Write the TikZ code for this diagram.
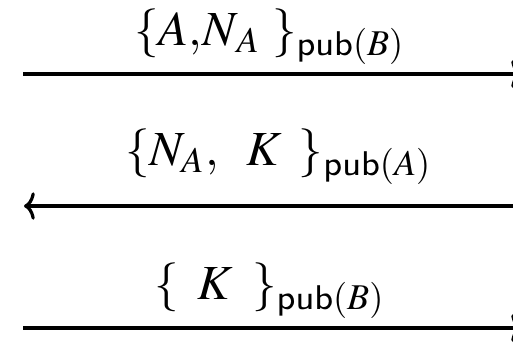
\documentclass[tikz,border=0pt]{standalone}
\usepackage{mathptmx}
\usepackage[scaled=0.92]{helvet}
\usetikzlibrary{arrows.meta}
\begin{document}
\begin{tikzpicture}[x=0.2041pt,y=-0.2041pt,
  msg/.style={line width=0.65pt,-{To[length=2.2pt,width=5.6pt]}},
  lbl/.style={anchor=base,inner sep=0pt}]
\useasboundingbox (0,0) rectangle (513,350);
\clip (0,0) rectangle (513,350);
\coordinate (a1) at (23,74);
\coordinate (b1) at (522,74);
\coordinate (a2) at (522,206);
\coordinate (b2) at (24,206);
\coordinate (a3) at (23,328);
\coordinate (b3) at (522,328);
\node[lbl] (l1) at (270,45) {$\{A{,}N_{\hspace{0.6pt}A}\hspace{2.2pt}\}_{\mathsf{pub}(B)}$};
\node[lbl] (l2) at (279,165) {$\{N_A,\hspace{4.5pt}K\hspace{3.4pt}\}_{\mathsf{pub}(A)}$};
\node[lbl] (l3) at (270,299) {$\{\hspace{3.9pt}K\hspace{3.9pt}\}_{\mathsf{pub}(B)}$};
\draw[msg] (a1) -- (b1);
\draw[msg] (a2) -- (b2);
\draw[msg] (a3) -- (b3);
\end{tikzpicture}
\end{document}
